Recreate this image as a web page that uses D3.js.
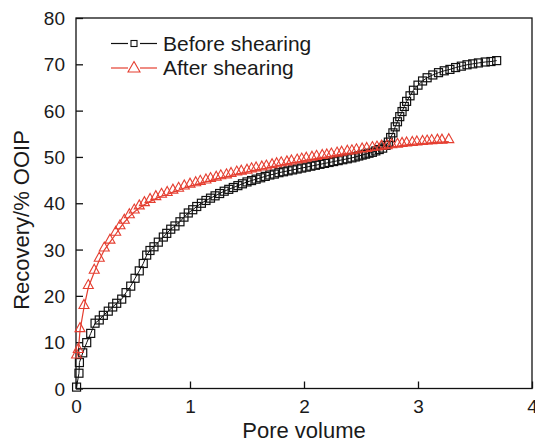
<!DOCTYPE html>
<html><head><meta charset="utf-8">
<script src="https://cdn.jsdelivr.net/npm/d3@7"></script>
<style>
html,body{margin:0;padding:0;background:#fff;}
svg{display:block;}
text{font-family:"Liberation Sans",Arial,Helvetica,sans-serif;fill:#1a1a1a;}
</style></head>
<body>
<svg id="chart" width="535" height="443"></svg>
<script>
// ---- data ----
const beforeX = [0.005,0.026,0.03,0.059,0.094,0.129,0.167,0.204,0.24,0.283,0.322,0.357,0.401,0.439,0.48,0.518,0.555,0.59,0.62,0.649,0.684,0.722,0.766,0.796,0.831,0.868,0.912,0.947,0.985,1.024,1.059,
  1.10,1.14,1.18,1.22,1.26,1.30,1.34,1.38,1.42,1.46,1.50,1.54,1.58,1.62,1.66,1.70,1.74,1.78,1.82,1.86,1.90,1.94,1.98,2.02,2.06,2.10,2.14,2.18,2.22,2.26,2.30,2.34,2.38,2.42,2.45,2.48,2.51,2.54,2.57,2.60,2.63,2.66,2.69,2.72,2.74,2.76,2.78,2.80,2.82,2.84,2.86,2.88,2.90,2.93,2.96,3.00,3.04,3.08,3.13,3.18,3.23,3.28,3.33,3.38,3.43,3.48,3.53,3.59,3.64,3.69];
const beforeY = [0.3,3.3,5.6,7.7,9.9,11.9,14.1,14.8,15.8,16.7,17.6,18.4,19.3,20.7,22.1,23.8,25.4,27.0,28.8,29.8,30.6,31.6,32.7,33.5,34.4,35.1,36.0,37.0,37.9,38.6,39.3,
  40.0,40.6,41.1,41.6,42.1,42.6,43.0,43.4,43.8,44.2,44.6,44.9,45.2,45.5,45.8,46.1,46.3,46.6,46.8,47.0,47.2,47.4,47.6,47.8,48.0,48.2,48.4,48.6,48.8,49.0,49.2,49.4,49.6,49.8,50.0,50.2,50.4,50.6,50.8,51.0,51.3,51.6,51.9,52.5,53.2,54.2,55.2,56.5,57.6,58.7,59.8,60.9,62.0,63.2,64.4,65.5,66.4,67.1,67.7,68.2,68.6,68.9,69.3,69.6,69.9,70.1,70.3,70.5,70.6,70.8];
const afterX = [0.005,0.02,0.035,0.07,0.108,0.16,0.204,0.248,0.298,0.348,0.386,0.424,0.468,0.511,0.555,0.60,0.65,0.70,0.75,0.80,0.85,0.90,0.95,1.00,1.05,1.09,1.14,1.18,1.23,1.27,1.32,1.36,1.41,1.45,1.50,1.54,1.58,1.63,1.67,1.72,1.76,1.80,1.85,1.89,1.94,1.98,2.02,2.07,2.11,2.16,2.20,2.24,2.29,2.33,2.38,2.42,2.46,2.51,2.55,2.60,2.64,2.68,2.73,2.77,2.82,2.86,2.90,2.95,2.99,3.04,3.08,3.12,3.17,3.21,3.27];
const afterY = [6.8,8.0,12.5,17.5,21.8,25.1,27.7,29.9,31.6,33.3,34.7,35.9,37.1,38.1,39.0,39.7,40.4,41.0,41.5,41.9,42.4,42.8,43.3,43.7,44.0,44.3,44.6,44.9,45.2,45.5,45.7,46.0,46.3,46.5,46.7,47.0,47.2,47.4,47.6,47.9,48.1,48.3,48.5,48.7,48.9,49.1,49.3,49.5,49.7,49.9,50.0,50.2,50.4,50.6,50.8,50.9,51.1,51.3,51.4,51.6,51.7,51.9,52.0,52.2,52.3,52.5,52.6,52.7,52.8,52.9,53.0,53.1,53.2,53.2,53.3];
const xTicks = [0,1,2,3,4];
const yTicks = [0,10,20,30,40,50,60,70,80];
const seriesNames = ["Before shearing","After shearing"];
const xTitle = "Pore volume";
const yTitle = "Recovery/% OOIP";

// ---- layout ----
const RED = "#e53e30";
const m = {left:76, right:532, top:18, bottom:388.5};
const svg = d3.select("#chart");
const x = d3.scaleLinear().domain([0,4]).range([m.left,m.right]);
const y = d3.scaleLinear().domain([0,80]).range([m.bottom,m.top]);

const before = beforeX.map((v,i)=>[v,beforeY[i]]);
const after = afterX.map((v,i)=>[v,afterY[i]]);

const line = d3.line().x(d=>x(d[0])).y(d=>y(d[1]));

// frame
svg.append("rect").attr("x",m.left).attr("y",m.top)
  .attr("width",m.right-m.left).attr("height",m.bottom-m.top)
  .attr("fill","none").attr("stroke","#111").attr("stroke-width",1.3);

// axes
const xAxis = d3.axisBottom(x).tickValues(xTicks).tickSize(-7).tickPadding(11).tickFormat(d3.format("d"));
const gx = svg.append("g").attr("transform",`translate(0,${m.bottom})`).call(xAxis);
const yAxis = d3.axisLeft(y).tickValues(yTicks).tickSize(-7).tickPadding(11).tickFormat(d3.format("d"));
const gy = svg.append("g").attr("transform",`translate(${m.left},0)`).call(yAxis);
[gx,gy].forEach(g=>{
  g.select(".domain").remove();
  g.selectAll(".tick line").attr("stroke","#111").attr("stroke-width",1.3);
  g.selectAll(".tick text").attr("font-size",19).attr("fill","#1a1a1a")
    .style("font-family",'"Liberation Sans",Arial,sans-serif');
});
gx.selectAll(".tick text").attr("dy","0.72em");
gy.selectAll(".tick text").attr("dy","0.35em");

// axis titles
svg.append("text").attr("x",(m.left+m.right)/2).attr("y",438)
  .attr("text-anchor","middle").attr("font-size",22).text(xTitle);
svg.append("text").attr("transform","translate(29,220) rotate(-90)")
  .attr("text-anchor","middle").attr("font-size",22).text(yTitle);

// series lines
svg.append("path").datum(before).attr("d",line).attr("fill","none").attr("stroke","#111").attr("stroke-width",1);
svg.append("path").datum(after).attr("d",line).attr("fill","none").attr("stroke",RED).attr("stroke-width",1.2);

// markers
const sq = 8;
svg.append("g").selectAll("rect").data(before).join("rect")
  .attr("x",d=>x(d[0])-sq/2).attr("y",d=>y(d[1])-sq/2)
  .attr("width",sq).attr("height",sq)
  .attr("fill","none").attr("stroke","#111").attr("stroke-width",1.2);
svg.append("g").selectAll("path").data(after).join("path")
  .attr("d",d=>{const cx=x(d[0]), cy=y(d[1]); return `M${cx},${cy-8}L${cx+5},${cy+1}L${cx-5},${cy+1}Z`;})
  .attr("fill","none").attr("stroke",RED).attr("stroke-width",1.1);

// legend
const lg = svg.append("g");
const rows = [{y:43.5,color:"#111",name:seriesNames[0],type:"sq"},{y:68,color:RED,name:seriesNames[1],type:"tri"}];
rows.forEach(r=>{
  lg.append("line").attr("x1",111).attr("x2",128).attr("y1",r.y).attr("y2",r.y).attr("stroke",r.color).attr("stroke-width",1.2);
  lg.append("line").attr("x1",140).attr("x2",157).attr("y1",r.y).attr("y2",r.y).attr("stroke",r.color).attr("stroke-width",1.2);
  if(r.type==="sq"){
    lg.append("rect").attr("x",131).attr("y",r.y-3).attr("width",6).attr("height",6).attr("fill","none").attr("stroke",r.color).attr("stroke-width",1.1);
  } else {
    lg.append("path").attr("d",`M134,${r.y-6.5}L140,${r.y+4}L128,${r.y+4}Z`).attr("fill","none").attr("stroke",r.color).attr("stroke-width",1.1);
  }
  lg.append("text").attr("x",163).attr("y",r.y+7).attr("font-size",21).text(r.name);
});
</script>
</body></html>
